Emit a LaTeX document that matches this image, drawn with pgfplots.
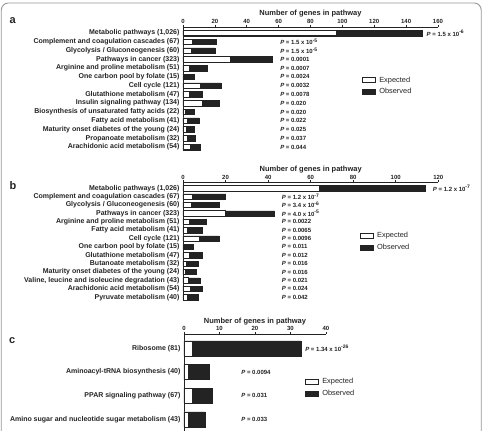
\documentclass[border=0pt]{standalone}
\usepackage{pgfplots}
\pgfplotsset{compat=1.18}
\usepackage{fontspec}
\setmainfont{Liberation Sans}

\definecolor{ink}{RGB}{35,35,35}
\definecolor{framegray}{RGB}{150,150,150}

% P-value label: P = mantissa x 10^exponent
\newcommand\pv[2]{\textit{P} = #1 x 10\textsuperscript{#2}}

\pgfplotsset{
  pathway/.style={
    scale only axis,
    clip=false,
    axis x line*=top,
    axis y line*=left,
    axis line style={ink, line width=0.6pt},
    tick align=outside,
    xtick style={ink, line width=0.5pt},
    major tick length=2.2pt,
    ytick style={draw=none},
    xlabel={Number of genes in pathway},
    xlabel style={font=\bfseries\fontsize{7.5}{8}\selectfont, text=ink, inner sep=1pt},
    xticklabel style={font=\bfseries\fontsize{6}{7}\selectfont, text=ink, inner sep=0.8pt},
    yticklabel style={font=\bfseries\fontsize{7}{8}\selectfont, text=ink, inner sep=1.2pt},
    /pgf/number format/assume math mode=true,
    legend cell align=left,
    legend image code/.code={\draw[##1] (0pt,-2.6pt) rectangle (12.5pt,2.6pt);},
    legend style={draw=none, fill=none, inner sep=0pt, row sep=2pt, column sep=2.5pt,
      font=\fontsize{7.4}{8}\selectfont, text=ink,
      nodes={inner sep=1.5pt}},
  },
  obs/.style={xbar, bar shift=0pt, fill=ink, draw=ink, line width=0.5pt, forget plot},
  expd/.style={xbar, bar shift=0pt, fill=white, draw=ink, line width=0.6pt, forget plot},
}
\tikzset{
  plab/.style={anchor=west, inner sep=0pt, font=\bfseries\fontsize{6}{7}\selectfont, text=ink},
  panel/.style={anchor=base west, inner sep=0pt, font=\bfseries\fontsize{11}{12}\selectfont, text=ink},
}

\begin{document}
\begin{tikzpicture}[x=1pt, y=1pt]
\useasboundingbox (0,0) rectangle (483,-431);

% rounded frame round the figure
\begin{scope}
  \clip (0,0) rectangle (483,-431);
  \draw[framegray, line width=0.9pt, rounded corners=7pt] (1.3,-3) rectangle (481.2,-445);
\end{scope}

\node[panel] at (9.5,-23.3) {a};
\node[panel] at (9.5,-189.3) {b};
\node[panel] at (9.0,-343.3) {c};

% ---------------- panel a ----------------
\begin{axis}[pathway,
  at={(183pt,-26.9pt)}, anchor=north west,
  width=255pt, height=124.5pt,
  xmin=0, xmax=160, xtick={0,20,...,160},
  ymin=-13.5, ymax=0.7,
  ytick={0,-1,-2,-3,-4,-5,-6,-7,-8,-9,-10,-11,-12,-13},
  yticklabels={Metabolic pathways (1{,}026), Complement and coagulation cascades (67),
    Glycolysis / Gluconeogenesis (60), Pathways in cancer (323),
    Arginine and proline metabolism (51), One carbon pool by folate (15),
    Cell cycle (121), Glutathione metabolism (47), Insulin signaling pathway (134),
    Biosynthesis of unsaturated fatty acids (22), Fatty acid metabolism (41),
    Maturity onset diabetes of the young (24), Propanoate metabolism (32),
    Arachidonic acid metabolism (54)},
  bar width=5.5pt,
  legend style={at={(0.702,0.614)}, anchor=north west},
]
\addlegendimage{fill=white, draw=ink, line width=0.6pt}
\addlegendentry{Expected}
\addlegendimage{fill=ink, draw=ink, line width=0.5pt}
\addlegendentry{Observed}
% observed
\addplot[obs] coordinates {(150,0) (21,-1) (20,-2) (56,-3) (15,-4) (7,-5) (24,-6)
  (12,-7) (23,-8) (7,-9) (10,-10) (7,-11) (8,-12) (11,-13)};
% expected
\addplot[expd] coordinates {(96,0) (6,-1) (5,-2) (29.5,-3) (4,-4) (1,-5) (11,-6)
  (4,-7) (12,-8) (1.5,-9) (3,-10) (2,-11) (2.5,-12) (4.5,-13)};
\node[plab] at (axis cs:152.8,0) {\pv{1.5}{-6}};
\node[plab] at (axis cs:60.9,-1) {\pv{1.5}{-5}};
\node[plab] at (axis cs:60.9,-2) {\pv{1.5}{-5}};
\node[plab] at (axis cs:60.9,-3) {\textit{P} = 0.0001};
\node[plab] at (axis cs:60.9,-4) {\textit{P} = 0.0007};
\node[plab] at (axis cs:60.9,-5) {\textit{P} = 0.0024};
\node[plab] at (axis cs:60.9,-6) {\textit{P} = 0.0032};
\node[plab] at (axis cs:60.9,-7) {\textit{P} = 0.0078};
\node[plab] at (axis cs:60.9,-8) {\textit{P} = 0.020};
\node[plab] at (axis cs:60.9,-9) {\textit{P} = 0.020};
\node[plab] at (axis cs:60.9,-10) {\textit{P} = 0.022};
\node[plab] at (axis cs:60.9,-11) {\textit{P} = 0.025};
\node[plab] at (axis cs:60.9,-12) {\textit{P} = 0.037};
\node[plab] at (axis cs:60.9,-13) {\textit{P} = 0.044};
\end{axis}

% ---------------- panel b ----------------
\begin{axis}[pathway,
  at={(183pt,-182.4pt)}, anchor=north west,
  width=255.3pt, height=119pt,
  xmin=0, xmax=120, xtick={0,20,...,120},
  ymin=-13.5, ymax=0.7,
  ytick={0,-1,-2,-3,-4,-5,-6,-7,-8,-9,-10,-11,-12,-13},
  yticklabels={Metabolic pathways (1{,}026), Complement and coagulation cascades (67),
    Glycolysis / Gluconeogenesis (60), Pathways in cancer (323),
    Arginine and proline metabolism (51), Fatty acid metabolism (41),
    Cell cycle (121), One carbon pool by folate (15), Glutathione metabolism (47),
    Butanoate metabolism (32), Maturity onset diabetes of the young (24),
    {Valine, leucine and isoleucine degradation (43)}, Arachidonic acid metabolism (54),
    Pyruvate metabolism (40)},
  bar width=5.3pt,
  legend style={at={(0.693,0.597)}, anchor=north west},
]
\addlegendimage{fill=white, draw=ink, line width=0.6pt}
\addlegendentry{Expected}
\addlegendimage{fill=ink, draw=ink, line width=0.5pt}
\addlegendentry{Observed}
\addplot[obs] coordinates {(114,0) (20,-1) (17,-2) (43,-3) (11,-4) (9,-5) (17,-6)
  (5,-7) (9,-8) (7,-9) (6,-10) (8,-11) (9,-12) (7,-13)};
\addplot[expd] coordinates {(64,0) (4.2,-1) (3.7,-2) (20,-3) (3,-4) (2.2,-5) (7.5,-6)
  (0.7,-7) (2.8,-8) (1.7,-9) (0.9,-10) (2.3,-11) (3.3,-12) (1.9,-13)};
\node[plab] at (axis cs:117.4,0) {\pv{1.2}{-7}};
\node[plab] at (axis cs:46.4,-1) {\pv{1.2}{-7}};
\node[plab] at (axis cs:46.4,-2) {\pv{3.4}{-6}};
\node[plab] at (axis cs:46.4,-3) {\pv{4.0}{-5}};
\node[plab] at (axis cs:46.4,-4) {\textit{P} = 0.0022};
\node[plab] at (axis cs:46.4,-5) {\textit{P} = 0.0065};
\node[plab] at (axis cs:46.4,-6) {\textit{P} = 0.0096};
\node[plab] at (axis cs:46.4,-7) {\textit{P} = 0.011};
\node[plab] at (axis cs:46.4,-8) {\textit{P} = 0.012};
\node[plab] at (axis cs:46.4,-9) {\textit{P} = 0.016};
\node[plab] at (axis cs:46.4,-10) {\textit{P} = 0.016};
\node[plab] at (axis cs:46.4,-11) {\textit{P} = 0.021};
\node[plab] at (axis cs:46.4,-12) {\textit{P} = 0.024};
\node[plab] at (axis cs:46.4,-13) {\textit{P} = 0.042};
\end{axis}

% ---------------- panel c ----------------
\begin{axis}[pathway,
  at={(184pt,-334.1pt)}, anchor=north west,
  width=142pt, height=97.2pt,
  xmin=0, xmax=40, xtick={0,10,...,40},
  ymin=-3.5, ymax=0.6,
  ytick={0,-1,-2,-3},
  yticklabels={Ribosome (81), Aminoacyl-tRNA biosynthesis (40),
    PPAR signaling pathway (67), Amino sugar and nucleotide sugar metabolism (43)},
  bar width=15pt,
  legend style={at={(0.852,0.562)}, anchor=north west},
]
\addlegendimage{fill=white, draw=ink, line width=0.6pt}
\addlegendentry{Expected}
\addlegendimage{fill=ink, draw=ink, line width=0.5pt}
\addlegendentry{Observed}
\addplot[obs] coordinates {(33,0) (7,-1) (8,-2) (6,-3)};
\addplot[expd] coordinates {(2.4,0) (1.2,-1) (2.2,-2) (1.2,-3)};
\node[plab] at (axis cs:34.1,0) {\pv{1.34}{-26}};
\node[plab] at (axis cs:16.1,-1) {\textit{P} = 0.0094};
\node[plab] at (axis cs:16.1,-2) {\textit{P} = 0.031};
\node[plab] at (axis cs:16.1,-3) {\textit{P} = 0.033};
\end{axis}
\end{tikzpicture}
\end{document}
